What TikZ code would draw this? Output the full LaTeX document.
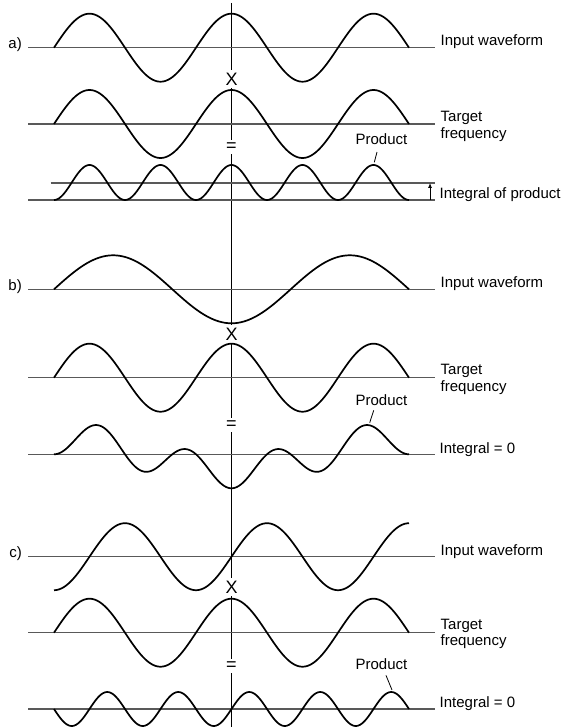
\documentclass[tikz,border=0pt]{standalone}
\usepackage{fontspec}
\setmainfont{Liberation Sans}
\usetikzlibrary{arrows.meta}
\tikzset{
  wave/.style={line width=1.7pt, line join=round},
  sweep/.style={domain=-450:450, samples=241},
  axisline/.style={line width=1.2pt, black!65},
  centreline/.style={line width=1.2pt},
  lbl/.style={inner sep=0pt, font=\fontsize{15}{16.5}\selectfont},
  opsign/.style={fill=white, inner xsep=2pt, inner ysep=3pt, font=\fontsize{18}{18}\selectfont},
  pointer/.style={line width=0.8pt},
  rise/.style={-{Latex[length=5pt,width=4pt]}, line width=0.8pt}
}

\begin{document}
\begin{tikzpicture}[x=1pt,y=-1pt]
\useasboundingbox (0,0) rectangle (564,727);

% Linea central comun
\coordinate (midTop) at (231.5,3);
\coordinate (midBot) at (231.5,727);
\draw[centreline] (midTop) -- (midBot);

% ---------------- a) misma frecuencia ----------------
\node[lbl, anchor=base east] (tagA) at (22,49) {a)};
\draw[axisline] (28,47.7) -- (435,47.7);
\draw[wave] plot[sweep] ({231.5+0.39444*\x},{47.7-34*cos(\x)});
\node[lbl, anchor=base west] (inA) at (440.5,45.7) {Input waveform};

\node[opsign] (mulA) at (231.5,79) {X};

\draw[axisline] (28,124) -- (435,124);
\draw[wave] plot[sweep] ({231.5+0.39444*\x},{124-34*cos(\x)});
\node[lbl, anchor=north west, align=left] (tgtA) at (440.5,111.3) {Target\\frequency};

\node[opsign] (eqA) at (231.5,147) {=};

\draw[axisline] (28,200) -- (435,200);
\draw[axisline] (50.7,183) -- (435,183);
\draw[wave] plot[sweep] ({231.5+0.39444*\x},{182.5-17.5*cos(2*\x)});
\node[lbl, anchor=base] (prodLblA) at (381.5,145) {Product};
\coordinate (pkA) at (374.3,162.3);
\draw[pointer] ([xshift=-4.5pt,yshift=-6.7pt]prodLblA.south) -- (pkA);
\coordinate (intLo) at (430,200);
\coordinate (intHi) at (430,183);
\draw[rise] (intLo) -- (intHi);
\node[lbl, anchor=base west] (intA) at (439.5,199) {Integral of product};

% ---------------- b) frecuencia distinta ----------------
\node[lbl, anchor=base east] (tagB) at (22,290) {b)};
\draw[axisline] (28,289.3) -- (435,289.3);
\draw[wave] plot[sweep] ({231.5+0.39444*\x},{289.3+34*cos(0.6*\x)});
\node[lbl, anchor=base west] (inB) at (440.5,287.5) {Input waveform};

\node[opsign] (mulB) at (231.5,334) {X};

\draw[axisline] (28,377.7) -- (435,377.7);
\draw[wave] plot[sweep] ({231.5+0.39444*\x},{377.7-34*cos(\x)});
\node[lbl, anchor=north west, align=left] (tgtB) at (440.5,364.3) {Target\\frequency};

\node[opsign] (eqB) at (231.5,425) {=};

\draw[axisline] (28,454.3) -- (435,454.3);
\draw[wave] plot[sweep] ({231.5+0.39444*\x},{454.3+34*cos(0.6*\x)*cos(\x)});
\node[lbl, anchor=base] (prodLblB) at (381.5,405) {Product};
\coordinate (pkB) at (369.7,422.7);
\draw[pointer] ([xshift=-7.8pt,yshift=-5pt]prodLblB.south) -- (pkB);
\node[lbl, anchor=base west] (intB) at (439.5,453.3) {Integral = 0};

% ---------------- c) desfase de 90 grados ----------------
\node[lbl, anchor=base east] (tagC) at (22,557) {c)};
\draw[axisline] (28,556.7) -- (435,556.7);
\draw[wave] plot[sweep] ({231.5+0.39444*\x},{556.7-33.5*sin(\x)});
\node[lbl, anchor=base west] (inC) at (440.5,555) {Input waveform};

\node[opsign] (mulC) at (231.5,587) {X};

\draw[axisline] (28,632.7) -- (435,632.7);
\draw[wave] plot[sweep] ({231.5+0.39444*\x},{632.7-34*cos(\x)});
\node[lbl, anchor=north west, align=left] (tgtC) at (440.5,618.6) {Target\\frequency};

\node[opsign] (eqC) at (231.5,666) {=};

\draw[axisline] (28,709) -- (435,709);
\draw[wave] plot[sweep] ({231.5+0.39444*\x},{709-17*sin(2*\x)});
\node[lbl, anchor=base] (prodLblC) at (381.5,669.3) {Product};
\coordinate (pkC) at (392,690);
\draw[pointer] ([xshift=4.5pt,yshift=-5.7pt]prodLblC.south) -- (pkC);
\node[lbl, anchor=base west] (intC) at (439.5,707.8) {Integral = 0};

\end{tikzpicture}
\end{document}
